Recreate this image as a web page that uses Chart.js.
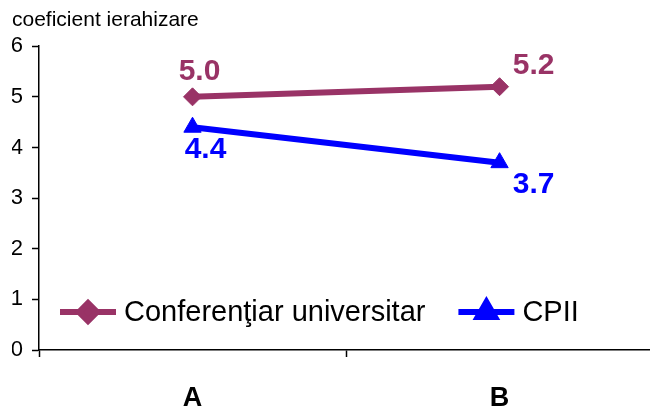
<!DOCTYPE html>
<html>
<head>
<meta charset="utf-8">
<script src="https://cdn.jsdelivr.net/npm/chart.js@4/dist/chart.umd.min.js"></script>
<style>
  html, body { margin: 0; padding: 0; background: #fff; overflow: hidden; }
  #wrap { width: 661px; height: 417px; }
</style>
</head>
<body>
<div id="wrap"><canvas id="chart"></canvas></div>
<script>
// ===== DATE =====
const categories = ['A', 'B'];
const seriesNames = ['Conferenţiar universitar', 'CPII'];
const confValues = [5.0, 5.2];
const cpiiValues = [4.4, 3.7];
const yTicks = [0, 1, 2, 3, 4, 5, 6];
const axisTitle = 'coeficient ierahizare';

const FONT = 'Arial, "Liberation Sans", sans-serif';
const PURPLE = '#993366';
const BLUE = '#0000ff';

function toPoints(values) {
    return values.map((v, i) => ({ x: i, y: v }));
}

// ===== ETICHETE DE DATE =====
const dataLabels = {
    id: 'dataLabels',
    afterDatasetsDraw(chart, args, opts) {
        const ctx = chart.ctx;
        ctx.save();
        ctx.font = 'bold 30px ' + FONT;
        ctx.textAlign = 'center';
        ctx.textBaseline = 'middle';
        chart.data.datasets.forEach((ds, di) => {
            const meta = chart.getDatasetMeta(di);
            const shifts = opts.shifts[di];
            meta.data.forEach((pt, i) => {
                ctx.fillStyle = ds.borderColor;
                ctx.fillText(ds.data[i].y.toFixed(1), pt.x + shifts[i][0], pt.y + shifts[i][1]);
            });
        });
        ctx.restore();
    }
};

// ===== LEGENDA IN ZONA GRAFICULUI =====
const innerLegend = {
    id: 'innerLegend',
    afterDatasetsDraw(chart, args, opts) {
        const ctx = chart.ctx;
        let x = opts.x;
        const y = opts.y;
        ctx.save();
        ctx.font = '29px ' + FONT;
        ctx.textBaseline = 'middle';
        chart.data.datasets.forEach(ds => {
            ctx.strokeStyle = ds.borderColor;
            ctx.lineWidth = ds.borderWidth;
            ctx.beginPath();
            ctx.moveTo(x, y);
            ctx.lineTo(x + opts.sample, y);
            ctx.stroke();
            ctx.fillStyle = ds.borderColor;
            Chart.helpers.drawPoint(ctx, {
                pointStyle: ds.pointStyle,
                radius: ds.pointRadius,
                rotation: 0,
                borderWidth: 1
            }, x + opts.sample / 2, y);
            ctx.fillStyle = '#000';
            const tx = x + opts.sample + 8;
            ctx.fillText(ds.label, tx, y + 1);
            x = tx + ctx.measureText(ds.label).width + opts.gap;
        });
        ctx.restore();
    }
};

new Chart(document.getElementById('chart'), {
    type: 'line',
    data: {
        datasets: [
            {
                label: seriesNames[0],
                data: toPoints(confValues),
                borderColor: PURPLE,
                backgroundColor: PURPLE,
                borderWidth: 6,
                pointStyle: 'rectRot',
                pointRadius: 9,
                pointBorderWidth: 1
            },
            {
                label: seriesNames[1],
                data: toPoints(cpiiValues),
                borderColor: BLUE,
                backgroundColor: BLUE,
                borderWidth: 6,
                pointStyle: 'triangle',
                pointRadius: 10,
                pointBorderWidth: 1
            }
        ]
    },
    options: {
        responsive: true,
        maintainAspectRatio: false,
        animation: false,
        layout: { padding: { left: 12, right: 0, top: 0, bottom: 0 } },
        plugins: {
            legend: { display: false },
            tooltip: { enabled: false },
            title: {
                display: true,
                text: axisTitle,
                align: 'start',
                color: '#000',
                font: { family: FONT, size: 21, weight: 'normal', lineHeight: 1.2 },
                padding: { top: 8, bottom: 13 }
            },
            dataLabels: {
                shifts: [[[7, -25], [34, -21]], [[13, 23], [34, 22]]]
            },
            innerLegend: { x: 60, y: 312, sample: 56, gap: 33 }
        },
        scales: {
            x: {
                type: 'linear',
                min: -0.5,
                max: 1.49,
                afterBuildTicks: s => {
                    const t = [];
                    categories.forEach((c, i) => { t.push({ value: i - 0.5 }); t.push({ value: i }); });
                    s.ticks = t;
                },
                afterFit: s => { s.height = 67; },
                ticks: {
                    color: '#000',
                    padding: 25,
                    maxRotation: 0,
                    autoSkip: false,
                    font: { family: FONT, size: 27, weight: 'bold' },
                    callback: v => Number.isInteger(v) ? categories[v] : ''
                },
                grid: {
                    drawOnChartArea: false,
                    tickLength: 7,
                    tickWidth: 1.5,
                    tickColor: c => (c.tick && Number.isInteger(c.tick.value)) ? 'rgba(0,0,0,0)' : '#000'
                },
                border: { color: '#000', width: 1.5 }
            },
            y: {
                min: 0,
                max: 6,
                afterBuildTicks: s => { s.ticks = yTicks.map(v => ({ value: v })); },
                afterFit: s => { s.width = 27; },
                ticks: {
                    color: '#000',
                    padding: 9,
                    font: { family: FONT, size: 22 }
                },
                grid: {
                    drawOnChartArea: false,
                    tickLength: 7,
                    tickWidth: 1.5,
                    tickColor: '#000'
                },
                border: { color: '#000', width: 1.5 }
            }
        }
    },
    plugins: [dataLabels, innerLegend]
});
</script>
</body>
</html>
